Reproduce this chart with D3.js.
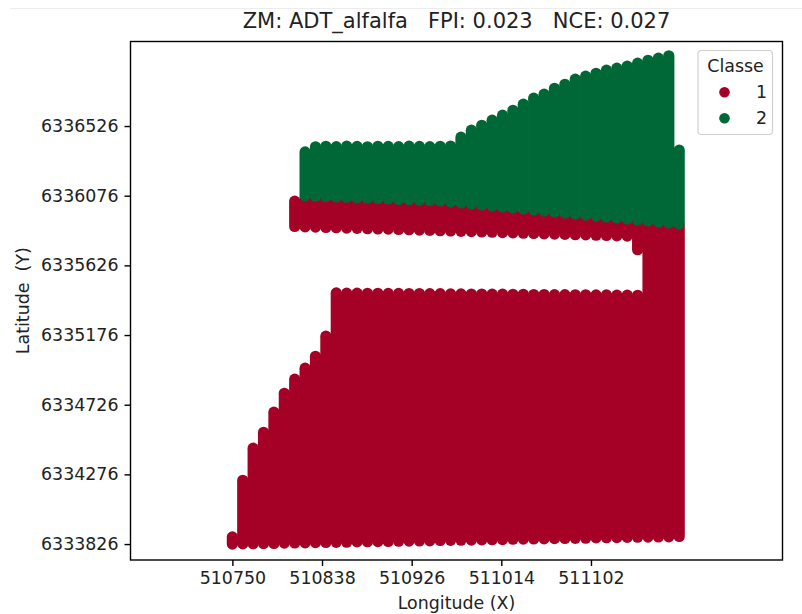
<!DOCTYPE html>
<html>
<head>
<meta charset="utf-8">
<script src="https://cdn.jsdelivr.net/npm/d3@7"></script>
<style>
  body { margin: 0; background: #fff; }
  svg { display: block; font-family: "DejaVu Sans", sans-serif; }
</style>
</head>
<body>
<div id="chart"></div>
<script>
// grid columns (Longitude X)
const lon = [510750, 510760.2, 510770.4, 510780.6, 510790.8, 510801, 510811.2, 510821.4, 510831.6, 510841.8,
  510852, 510862.2, 510872.4, 510882.6, 510892.8, 510903, 510913.2, 510923.4, 510933.6, 510943.8,
  510954, 510964.2, 510974.4, 510984.6, 510994.8, 511005, 511015.2, 511025.4, 511035.6, 511045.8,
  511056, 511066.2, 511076.4, 511086.6, 511096.8, 511107, 511117.2, 511127.4, 511137.6, 511147.8,
  511158, 511168.2, 511178.4, 511188.6];

// Classe 1 - lower block, latitude from / to per column
const c1LowBottom = [6333826, 6333827, 6333828, 6333829, 6333830, 6333832, 6333833, 6333834, 6333835, 6333836,
  6333837, 6333838, 6333840, 6333841, 6333842, 6333843, 6333844, 6333845, 6333846, 6333847,
  6333849, 6333850, 6333851, 6333852, 6333853, 6333854, 6333855, 6333857, 6333858, 6333859,
  6333860, 6333861, 6333862, 6333863, 6333864, 6333866, 6333867, 6333868, 6333869, 6333870,
  6333871, 6333872, 6333873, 6333875];
const c1LowTop = [6333872, 6334238, 6334445, 6334548, 6334678, 6334800, 6334891, 6334962, 6335039, 6335169,
  6335448, 6335447, 6335447, 6335446, 6335446, 6335445, 6335445, 6335444, 6335444, 6335443,
  6335443, 6335442, 6335442, 6335441, 6335441, 6335440, 6335440, 6335439, 6335439, 6335438,
  6335438, 6335437, 6335437, 6335436, 6335436, 6335435, 6335435, 6335434, 6335434, 6335433,
  6335903, 6335896, 6335890, 6335883];

// Classe 1 - upper strip
const c1BandBottom = [null, null, null, null, null, null, 6335877, 6335875, 6335873, 6335871,
  6335869, 6335867, 6335865, 6335863, 6335861, 6335860, 6335858, 6335856, 6335854, 6335852,
  6335850, 6335848, 6335846, 6335844, 6335842, 6335840, 6335838, 6335836, 6335834, 6335832,
  6335830, 6335828, 6335826, 6335824, 6335823, 6335821, 6335819, 6335817, 6335815, 6335727,
  null, null, null, null];
const c1BandTop = [null, null, null, null, null, null, 6336041, 6336065, 6336063, 6336060,
  6336058, 6336055, 6336052, 6336050, 6336047, 6336045, 6336042, 6336040, 6336037, 6336034,
  6336032, 6336025, 6336019, 6336012, 6336006, 6336000, 6335993, 6335987, 6335980, 6335974,
  6335967, 6335961, 6335954, 6335948, 6335941, 6335935, 6335928, 6335922, 6335916, 6335909,
  null, null, null, null];

// Classe 2
const c2Bottom = [null, null, null, null, null, null, null, 6336075, 6336073, 6336070,
  6336068, 6336065, 6336062, 6336060, 6336057, 6336055, 6336052, 6336050, 6336047, 6336044,
  6336042, 6336035, 6336029, 6336022, 6336016, 6336010, 6336003, 6335997, 6335990, 6335984,
  6335977, 6335971, 6335964, 6335958, 6335951, 6335945, 6335938, 6335932, 6335926, 6335919,
  6335913, 6335906, 6335900, 6335893];
const c2Top = [null, null, null, null, null, null, null, 6336359, 6336392, 6336395,
  6336393, 6336396, 6336394, 6336392, 6336395, 6336394, 6336393, 6336396, 6336394, 6336393,
  6336395, 6336397, 6336454, 6336499, 6336531, 6336564, 6336596, 6336628, 6336667, 6336706,
  6336732, 6336770, 6336796, 6336829, 6336848, 6336867, 6336887, 6336900, 6336913, 6336932,
  6336951, 6336964, 6336980, 6336370];

const classes = ["1", "2"];
const xTicks = [510750, 510838, 510926, 511014, 511102];
const yTicks = [6333826, 6334276, 6334726, 6335176, 6335626, 6336076, 6336526];
const xLimits = [510650, 511290];
const yLimits = [6333723, 6337072];

const width = 802, height = 614;
const margin = { top: 41.5, right: 19.5, bottom: 54, left: 130.5 };
const colors = { "1": "#a50026", "2": "#006837" };
const markerR = 5.6;

const svg = d3.select("#chart").append("svg")
  .attr("width", width).attr("height", height);

// faint screenshot rule at the top
svg.append("line")
  .attr("x1", 10).attr("x2", width).attr("y1", 8.5).attr("y2", 8.5)
  .attr("stroke", "#ececec").attr("stroke-width", 1);

const x = d3.scaleLinear().domain(xLimits).range([margin.left, width - margin.right]);
const y = d3.scaleLinear().domain(yLimits).range([height - margin.bottom, margin.top]);

// build column segments: each column is a dense stack of markers
const segs = [];
lon.forEach((lx, i) => {
  segs.push({ lon: lx, y0: c1LowBottom[i], y1: c1LowTop[i], cls: "1" });
  if (c1BandBottom[i] != null) segs.push({ lon: lx, y0: c1BandBottom[i], y1: c1BandTop[i], cls: "1" });
});
lon.forEach((lx, i) => {
  if (c2Bottom[i] != null) segs.push({ lon: lx, y0: c2Bottom[i], y1: c2Top[i], cls: "2" });
});

const plot = svg.append("g");
plot.selectAll("line.pt")
  .data(segs)
  .enter()
  .append("line")
  .attr("class", "pt")
  .attr("x1", d => x(d.lon)).attr("x2", d => x(d.lon))
  .attr("y1", d => y(d.y0)).attr("y2", d => y(d.y1))
  .attr("stroke", d => colors[d.cls])
  .attr("stroke-width", markerR * 2)
  .attr("stroke-linecap", "round");

// axes
const xAxis = d3.axisBottom(x).tickValues(xTicks).tickFormat(d3.format("d")).tickSize(6).tickPadding(6);
const yAxis = d3.axisLeft(y).tickValues(yTicks).tickFormat(d3.format("d")).tickSize(6).tickPadding(6);

const gx = svg.append("g")
  .attr("transform", `translate(0, ${height - margin.bottom})`)
  .call(xAxis);
const gy = svg.append("g")
  .attr("transform", `translate(${margin.left}, 0)`)
  .call(yAxis);

[gx, gy].forEach(g => {
  g.select(".domain").remove();
  g.selectAll(".tick line").attr("stroke", "#000").attr("stroke-width", 1.4);
  g.selectAll(".tick text")
    .attr("fill", "#222")
    .style("font-family", "DejaVu Sans")
    .style("font-size", "17.4px");
});

// frame
svg.append("rect")
  .attr("x", margin.left).attr("y", margin.top)
  .attr("width", width - margin.left - margin.right)
  .attr("height", height - margin.top - margin.bottom)
  .attr("fill", "none").attr("stroke", "#000").attr("stroke-width", 1.4);

// title and axis labels
svg.append("text")
  .attr("x", (margin.left + width - margin.right) / 2)
  .attr("y", 28)
  .attr("text-anchor", "middle")
  .attr("fill", "#222")
  .style("font-size", "21px")
  .style("white-space", "pre")
  .attr("xml:space", "preserve")
  .text("ZM: ADT_alfalfa   FPI: 0.023   NCE: 0.027");

svg.append("text")
  .attr("x", (margin.left + width - margin.right) / 2)
  .attr("y", 609)
  .attr("text-anchor", "middle")
  .attr("fill", "#222")
  .style("font-size", "17.4px")
  .text("Longitude (X)");

svg.append("text")
  .attr("transform", `translate(28.5, ${(margin.top + height - margin.bottom) / 2}) rotate(-90)`)
  .attr("text-anchor", "middle")
  .attr("fill", "#222")
  .style("font-size", "17.4px")
  .attr("xml:space", "preserve")
  .style("white-space", "pre")
  .text("Latitude  (Y)");

// legend
const lg = svg.append("g");
lg.append("rect")
  .attr("x", 698).attr("y", 50.5).attr("width", 74.5).attr("height", 84)
  .attr("rx", 3.5)
  .attr("fill", "#fff").attr("fill-opacity", 0.8)
  .attr("stroke", "#d0d0d0").attr("stroke-width", 1.2);
lg.append("text")
  .attr("x", 735.5).attr("y", 72)
  .attr("text-anchor", "middle")
  .attr("fill", "#222")
  .style("font-size", "17.4px")
  .text("Classe");
const items = lg.selectAll("g.item")
  .data(classes)
  .enter()
  .append("g")
  .attr("class", "item")
  .attr("transform", (d, i) => `translate(0, ${92.3 + i * 26})`);
items.append("circle")
  .attr("cx", 724.5).attr("cy", 0).attr("r", 5.3)
  .attr("fill", d => colors[d]);
items.append("text")
  .attr("x", 756).attr("y", 6)
  .attr("fill", "#222")
  .style("font-size", "17.4px")
  .text(d => d);
</script>
</body>
</html>
